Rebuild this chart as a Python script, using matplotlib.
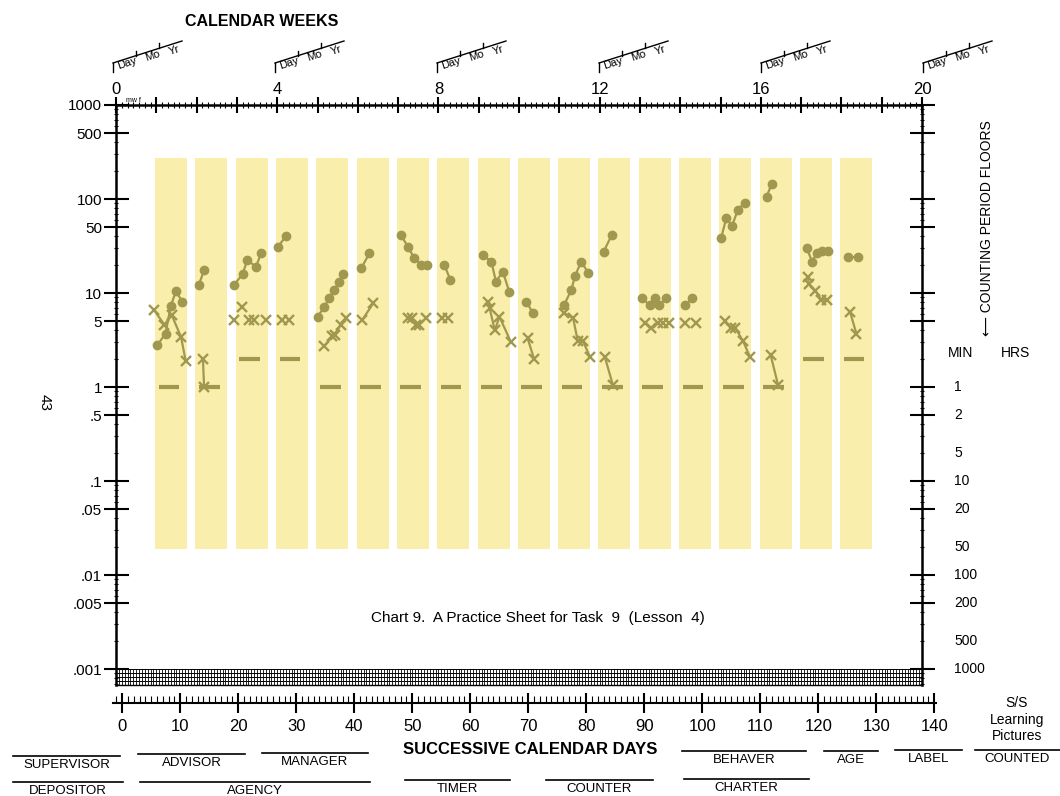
import numpy as np
import matplotlib
matplotlib.use('Agg')
import matplotlib.pyplot as plt
from matplotlib.ticker import LogLocator, NullFormatter, MultipleLocator
from matplotlib.transforms import blended_transform_factory

plt.rcParams['font.family'] = ['Liberation Sans', 'DejaVu Sans']

W, H = 1060, 796

# one shaded block per charted week
weeks = list(range(1, 19))
floors = [1, 1, 2, 2, 1, 1, 1, 1, 1, 1, 1, 1, 1, 1, 1, 1, 2, 2]

# corrects (dots), by calendar day
dot_days = [
    [7.2, 8.6, 9.5, 10.4, 11.5],
    [14.4, 15.3],
    [20.5, 22.0, 22.8, 24.3, 25.2],
    [28.1, 29.5],
    [35.0, 36.2, 37.0, 37.9, 38.8, 39.4],
    [42.6, 44.0],
    [49.5, 50.7, 51.8, 53.0, 54.1],
    [57.0, 58.1],
    [63.7, 65.2, 66.0, 67.2, 68.3],
    [71.3, 72.4],
    [77.8, 79.1, 79.7, 80.8, 82.0],
    [84.7, 86.1],
    [91.4, 92.7, 93.6, 94.4, 95.6],
    [98.9, 100.1],
    [105.1, 106.0, 107.0, 108.0, 109.2],
    [113.0, 113.9],
    [120.0, 120.9, 121.7, 122.7, 123.7],
    [127.2, 128.9],
]
dot_vals = [
    [2.8, 3.7, 7.2, 10.5, 8.1],
    [12.2, 17.6],
    [12.2, 15.9, 22.5, 19.0, 26.4],
    [31, 40],
    [5.6, 7.1, 8.8, 10.8, 13.2, 15.9],
    [18.3, 26.4],
    [41.4, 31, 23.5, 20.1, 20.1],
    [20.1, 13.7],
    [25.4, 21.6, 13.2, 16.9, 10.3],
    [8.1, 6.1],
    [7.4, 10.8, 15.0, 21.6, 16.5],
    [27.5, 41.4],
    [8.8, 7.4, 8.8, 7.4, 8.9],
    [7.4, 8.9],
    [38.2, 62.4, 51.6, 76.4, 91.4],
    [106, 145],
    [29.9, 21.6, 26.4, 28.1, 28.1],
    [24.3, 24.3],
]

# errors (x marks), by calendar day
x_days = [
    [6.6, 8.4, 9.7, 11.3, 12.1],
    [15.1, 15.3],
    [20.5, 21.8, 23.1, 24.0, 26.0],
    [28.9, 30.1],
    [36.2, 37.5, 38.1, 39.0, 39.9],
    [42.8, 44.7],
    [50.7, 51.5, 52.1, 52.7, 53.9],
    [56.6, 57.6],
    [64.6, 64.9, 65.8, 66.6, 68.6],
    [71.5, 72.6],
    [77.9, 79.4, 80.2, 81.1, 82.3],
    [84.9, 86.3],
    [91.8, 92.9, 94.1, 95.0, 96.0],
    [98.8, 100.8],
    [105.7, 106.9, 107.6, 108.9, 110.1],
    [113.7, 115.0],
    [120.2, 120.3, 121.5, 122.5, 123.5],
    [127.5, 128.6],
]
x_vals = [
    [6.6, 4.6, 5.8, 3.4, 1.9],
    [2.0, 1.0],
    [5.2, 7.1, 5.2, 5.2, 5.2],
    [5.2, 5.2],
    [2.7, 3.5, 3.6, 4.6, 5.4],
    [5.2, 7.8],
    [5.4, 5.4, 4.6, 4.6, 5.4],
    [5.4, 5.4],
    [8.1, 6.9, 4.0, 5.6, 3.0],
    [3.3, 2.0],
    [6.1, 5.4, 3.1, 3.1, 2.1],
    [2.1, 1.05],
    [4.8, 4.2, 4.8, 4.8, 4.8],
    [4.8, 4.8],
    [5.0, 4.2, 4.2, 3.1, 2.1],
    [2.2, 1.05],
    [14.9, 12.6, 10.5, 8.5, 8.5],
    [6.3, 3.7],
]
x_joined = [True, True, False, False, True, True, False, False, True,
            True, True, True, False, False, True, True, True, True]

count_ticks = [1000, 500, 100, 50, 10, 5, 1, .5, .1, .05, .01, .005, .001]
count_labels = ['1000', '500', '100', '50', '10', '5', '1', '.5', '.1', '.05',
                '.01', '.005', '.001']
minute_vals = [1, .5, .2, .1, .05, .02, .01, .005, .002, .001]
minute_labels = ['1', '2', '5', '10', '20', '50', '100', '200', '500', '1000']

BAR_FILL = '#F9EEAB'
INK = '#A1984F'


def px_box(x0, y0, x1, y1):
    return [x0 / W, 1 - y1 / H, (x1 - x0) / W, (y1 - y0) / H]


fig = plt.figure(figsize=(W / 100, H / 100), dpi=100)

# page layer in pixel units for the printed form furniture
page = fig.add_axes([0, 0, 1, 1], zorder=0)
page.set_xlim(0, W)
page.set_ylim(H, 0)
page.axis('off')

ax = fig.add_axes(px_box(116, 105, 922, 685), zorder=1)
ax.patch.set_visible(False)
ax.set_xlim(0, 140)
ax.set_yscale('log')
y_low = 10 ** -3.17
ax.set_ylim(y_low, 1000)

# weekly blocks and their counting floors
bar_left = np.array(weeks) * 7 - 0.2
ax.bar(bar_left, 270 - 0.019, bottom=0.019, width=5.55, align='edge',
       color=BAR_FILL, zorder=1)
ax.hlines(floors, bar_left + 0.6, bar_left + 4.2, color=INK, lw=3, zorder=3)

for i in range(len(weeks)):
    ax.plot(dot_days[i], dot_vals[i], '-o', color=INK, ms=6, lw=1.6, zorder=4)
    if x_joined[i]:
        ax.plot(x_days[i], x_vals[i], '-', color=INK, lw=1.6, zorder=4)
    ax.plot(x_days[i], x_vals[i], 'x', color=INK, ms=7, mew=1.7, zorder=4)

# hatched strip below .001
ax.vlines(np.arange(0, 140.01, 0.5), y_low, 0.001, color='k', lw=0.6, zorder=2)
ax.hlines(np.geomspace(y_low, 0.001, 5), 0, 140, color='k', lw=0.7, zorder=2)

for side in ['left', 'right', 'top']:
    ax.spines[side].set_linewidth(1.8)
ax.spines['bottom'].set_linewidth(1.0)

# calendar weeks along the top
ax.xaxis.tick_top()
week_days = np.arange(0, 141, 7)
ax.set_xticks(week_days, labels=[str(d // 7) if (d // 7) % 4 == 0 else ''
                                 for d in week_days])
ax.xaxis.set_minor_locator(MultipleLocator(1))
ax.tick_params(axis='x', which='major', direction='inout', length=11,
               width=1.5, labelsize=12, pad=0)
ax.tick_params(axis='x', which='minor', direction='inout', length=4, width=0.8)
ax.tick_params(axis='x', bottom=False, labelbottom=False)

ax.set_yticks(count_ticks, labels=count_labels)
ax.yaxis.set_minor_locator(LogLocator(subs=[2, 3, 4, 6, 7, 8, 9], numticks=20))
ax.yaxis.set_minor_formatter(NullFormatter())
ax.tick_params(axis='y', which='both', left=True, right=True,
               direction='inout')
ax.tick_params(axis='y', which='major', length=18, width=1.5, labelsize=11,
               pad=1)
ax.tick_params(axis='y', which='minor', length=3, width=0.8)

# counting period floors on the right
right = blended_transform_factory(ax.transAxes, ax.transData)
for v, lab in zip(minute_vals, minute_labels):
    ax.text(1.04, v, lab, transform=right, ha='left', va='center',
            fontsize=10)

# successive calendar days along the bottom
days_ax = fig.add_axes(px_box(113, 701.5, 936, 702.5), zorder=1)
days_ax.patch.set_visible(False)
days_ax.set_xlim(-1.6, 140.3)
days_ax.set_yticks([])
for side in ['left', 'right', 'top']:
    days_ax.spines[side].set_visible(False)
days_ax.spines['bottom'].set_linewidth(1.5)
days_ax.set_xticks(np.arange(0, 141, 10))
days_ax.xaxis.set_minor_locator(MultipleLocator(1))
days_ax.tick_params(axis='x', which='major', direction='inout', length=14,
                    width=1.5, labelsize=12, pad=5)
days_ax.tick_params(axis='x', which='minor', direction='in', length=5,
                    width=0.8)

# printed headings and labels
page.text(262, 22, 'CALENDAR WEEKS', ha='center', va='center',
          fontsize=11.5, fontweight='bold')
page.text(133, 100, 'mw f', ha='center', va='center', fontsize=5)
for w in range(0, 21, 4):
    x0 = 113 + w * 40.5
    page.plot([x0, x0], [72, 63], color='k', lw=1)
    page.plot([x0, x0 + 69], [63, 41], color='k', lw=1)
    for dx in (23, 46):
        yl = 63 - 22 * dx / 69
        page.plot([x0 + dx, x0 + dx], [yl, yl - 5], color='k', lw=1)
    for dx, y, s in [(14.5, 63, 'Day'), (40, 55.5, 'Mo'), (61, 50, 'Yr')]:
        page.text(x0 + dx, y, s, ha='center', va='center', fontsize=8,
                  rotation=17.7)

page.text(538, 618, 'Chart 9.  A Practice Sheet for Task  9  (Lesson  4)',
          ha='center', va='center', fontsize=11)
page.text(45, 402, '43', ha='center', va='center', fontsize=11, rotation=-90)
page.text(961, 353, 'MIN', ha='center', va='center', fontsize=10)
page.text(1015, 353, 'HRS', ha='center', va='center', fontsize=10)
page.text(987, 228, '\u27f5 COUNTING PERIOD FLOORS', ha='center',
          va='center', fontsize=10, rotation=90)

page.text(530, 750, 'SUCCESSIVE CALENDAR DAYS', ha='center', va='center',
          fontsize=12, fontweight='bold')
for s, y in [('S/S', 703), ('Learning', 720), ('Pictures', 736)]:
    page.text(1017, y, s, ha='center', va='center', fontsize=10)

sign_lines = [
    ('SUPERVISOR', 13, 120, 756), ('ADVISOR', 138, 245, 754),
    ('MANAGER', 262, 368, 753), ('BEHAVER', 682, 806, 751),
    ('AGE', 824, 878, 751), ('LABEL', 895, 962, 750),
    ('COUNTED', 975, 1060, 750), ('DEPOSITOR', 13, 123, 782),
    ('AGENCY', 140, 370, 782), ('TIMER', 405, 510, 780),
    ('COUNTER', 546, 653, 780), ('CHARTER', 684, 809, 779),
]
for s, x0, x1, y in sign_lines:
    page.plot([x0, x1], [y, y], color='k', lw=1.2)
    page.text((x0 + x1) / 2, y + 9, s, ha='center', va='center',
              fontsize=9.5)

fig.savefig('out.png', dpi=100)
